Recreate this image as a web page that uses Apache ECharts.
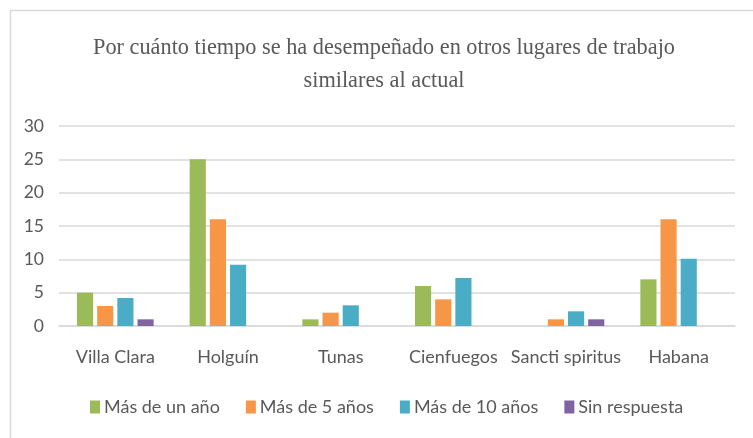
<!DOCTYPE html>
<html>
<head>
<meta charset="utf-8">
<script src="https://cdn.jsdelivr.net/npm/echarts@6/dist/echarts.min.js"></script>
<style>html,body{margin:0;padding:0;background:#fff;}#c{width:753px;height:438px;}</style>
</head>
<body>
<div id="c"></div>
<script>
var titleText = 'Por cuánto tiempo se ha desempeñado en otros lugares de trabajo\nsimilares al actual';
var categories = ['Villa Clara', 'Holguín', 'Tunas', 'Cienfuegos', 'Sancti spiritus', 'Habana'];
var seriesNames = ['Más de un año', 'Más de 5 años', 'Más de 10 años', 'Sin respuesta'];
var masUnAno = [5, 25, 1, 6, 0, 7];
var mas5Anos = [3, 16, 2, 4, 1, 16];
var mas10Anos = [4.2, 9.2, 3.1, 7.2, 2.2, 10.1];
var sinRespuesta = [1, 0, 0, 0, 1, 0];
var yTicks = [0, 5, 10, 15, 20, 25, 30];
var colors = ['#9BBB59', '#F79646', '#4BACC6', '#8064A2'];
var values = [masUnAno, mas5Anos, mas10Anos, sinRespuesta];

var chart = echarts.init(document.getElementById('c'));
var txt = '#595959';
chart.setOption({
  animation: false,
  backgroundColor: '#fff',
  graphic: [{
    type: 'rect', left: 8, top: 8, shape: {width: 800, height: 480},
    style: {fill: 'none', stroke: '#d9d9d9', lineWidth: 1.5}, silent: true, z: -1
  }],
  title: {
    text: titleText, left: 379, textAlign: 'center', top: 27,
    textStyle: {fontFamily: 'Liberation Serif', fontSize: 22.3, fontWeight: 'normal', color: txt, lineHeight: 33}
  },
  legend: {
    data: seriesNames, bottom: 17, left: 85, itemWidth: 10, itemHeight: 13, itemGap: 26,
    icon: 'rect',
    textStyle: {fontFamily: 'Lato', fontSize: 18, color: txt, padding: [0, 0, 0, -1]}
  },
  grid: {left: 59, right: 18, top: 126, bottom: 112},
  xAxis: {
    type: 'category', data: categories,
    axisLine: {lineStyle: {color: '#d9d9d9', width: 1.5}},
    axisTick: {show: false},
    axisLabel: {fontFamily: 'Lato', fontSize: 18, color: txt, margin: 22, interval: 0}
  },
  yAxis: {
    type: 'value', min: yTicks[0], max: yTicks[yTicks.length - 1], interval: 5,
    axisLine: {show: false}, axisTick: {show: false},
    splitLine: {lineStyle: {color: '#d9d9d9', width: 1.5}},
    axisLabel: {fontFamily: 'Lato', fontSize: 17.5, color: txt, margin: 15}
  },
  series: seriesNames.map(function (n, i) {
    return {
      name: n, type: 'bar', data: values[i],
      barGap: '25%', barCategoryGap: '32%',
      itemStyle: {color: colors[i]}
    };
  })
});
</script>
</body>
</html>
